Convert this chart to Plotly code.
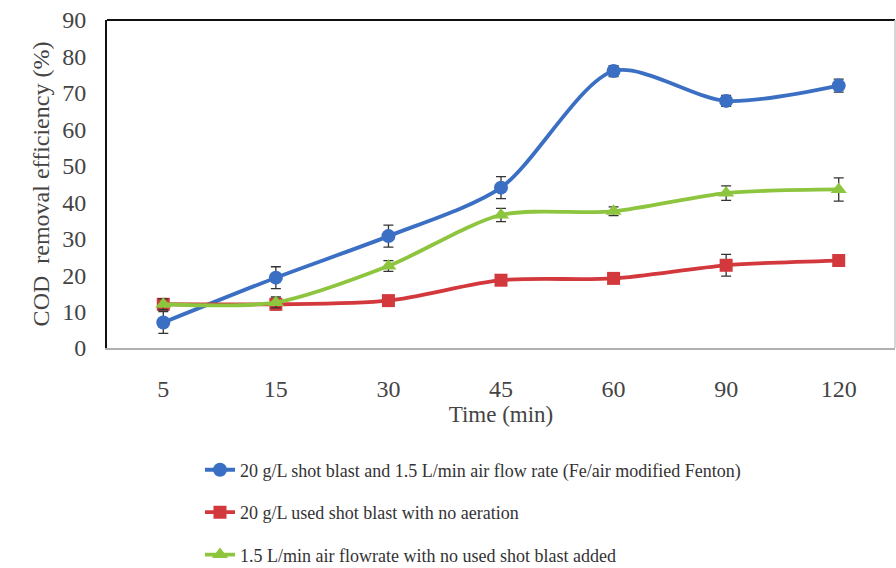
import plotly.graph_objects as go

times = ["5", "15", "30", "45", "60", "90", "120"]
blue_vals = [7, 19.3, 30.7, 44, 76, 67.8, 72]
blue_err = [3, 3, 3, 3, 1.5, 1.5, 1.8]
red_vals = [12, 12, 13, 18.6, 19.1, 22.7, 24]
red_err = [1.5, 1.5, 1.2, 1.2, 1.2, 3, 1.2]
green_vals = [12, 12.5, 22.5, 36.5, 37.5, 42.5, 43.5]
green_err = [1.5, 1.5, 1.5, 1.8, 1.2, 2, 3.2]

names = [
    "20 g/L shot blast and 1.5 L/min air flow rate (Fe/air modified Fenton)",
    "20 g/L used shot blast with no aeration",
    "1.5 L/min air flowrate with no used shot blast added",
]
colors = ["#3b6fc4", "#d2383c", "#8dc53e"]
symbols = ["circle", "square", "triangle-up"]
sizes = [14, 13, 14]

fig = go.Figure()
for i, (vals, errs) in enumerate([(blue_vals, blue_err), (red_vals, red_err), (green_vals, green_err)]):
    fig.add_trace(go.Scatter(
        x=times, y=vals, name=names[i], mode="lines+markers",
        line=dict(color=colors[i], width=3.8, shape="spline", smoothing=0.8),
        marker=dict(color=colors[i], symbol=symbols[i], size=sizes[i]),
        error_y=dict(type="data", array=errs, visible=True, color="#333333", thickness=1.3, width=5),
        legendgroup=str(i),
    ))

serif = "Liberation Serif, Times New Roman, serif"
fig.update_layout(
    width=896, height=568,
    margin=dict(l=107, r=1, t=20, b=220, autoexpand=False),
    paper_bgcolor="white", plot_bgcolor="white",
    font=dict(family=serif, color="#3a3a3a"),
    showlegend=True,
    legend=dict(x=0.118, y=0.205, xref="paper", yref="container", xanchor="left", yanchor="top",
                font=dict(size=18, family=serif, color="#333333"),
                tracegroupgap=16, bgcolor="rgba(0,0,0,0)", itemwidth=30),
    xaxis=dict(type="category", range=[-0.5, 6.5], showgrid=False,
               showline=True, linecolor="#b0b0b0", linewidth=2,
               tickfont=dict(size=24, family=serif, color="#444444"),
               ticklabelstandoff=18,
               title=dict(text="Time (min)", font=dict(size=23, family=serif, color="#444444"), standoff=0)),
    yaxis=dict(range=[0, 90], dtick=10, showgrid=False,
               showline=True, linecolor="#111111", linewidth=2,
               tickfont=dict(size=24, family=serif, color="#444444"),
               ticklabelstandoff=14,
               title=dict(text="COD  removal efficiency (%)", font=dict(size=24, family=serif, color="#444444"), standoff=6)),
    shapes=[dict(type="line", xref="paper", yref="paper", x0=0, x1=1, y0=1, y1=1,
                 line=dict(color="#111111", width=2)),
            dict(type="line", xref="paper", yref="paper", x0=1, x1=1, y0=0, y1=1,
                 line=dict(color="#c8c8c8", width=1.5))],
)

fig.write_html("out.html")
